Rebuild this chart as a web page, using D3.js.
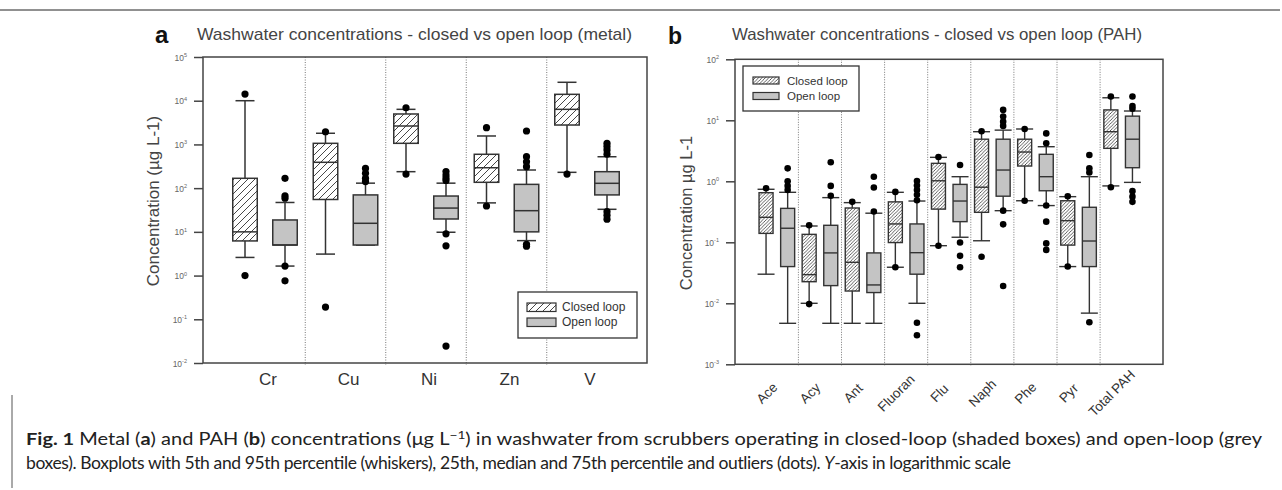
<!DOCTYPE html>
<html>
<head>
<meta charset="utf-8">
<script src="https://cdn.jsdelivr.net/npm/d3@7"></script>
<style>
  body { margin: 0; background: #fff; }
  svg { display: block; font-family: "Liberation Sans", Arial, sans-serif; }
</style>
</head>
<body>
<div id="chart"></div>
<script>
// ---- data ----
// each stats row: [low whisker, q1, median, q3, high whisker]
const metals = ["Cr", "Cu", "Ni", "Zn", "V"];
const metalClosed = [[2.6, 6.2, 10, 168, 10000], [3.1, 55, 390, 1060, 1800], [238, 1060, 2640, 4970, 6350], [46, 136, 293, 595, 1560], [230, 2780, 6350, 14000, 26400]];
const metalClosedOut = [[1.0, 14200], [0.19, 1950], [210, 6900], [39, 2420], [210]];
const metalOpen = [[1.65, 5, 5, 18.7, 47], [5, 5, 15.7, 70, 130], [9.8, 19.7, 35, 66, 130], [6.3, 10, 30.5, 122, 260], [32.8, 70, 129, 238, 523]];
const metalOpenOut = [[0.76, 1.65, 59, 67, 168], [141, 168, 218, 283], [0.0244, 4.8, 9, 150, 170, 200, 240], [4.7, 5.2, 310, 400, 525, 2030], [19.5, 24, 29, 600, 750, 900, 1060]];
const metalTicks = [1e-2, 1e-1, 1, 1e1, 1e2, 1e3, 1e4, 1e5];

const pah = ["Ace", "Acy", "Ant", "Fluoran", "Flu", "Naph", "Phe", "Pyr", "Total PAH"];
const pahClosed = [[0.030, 0.14, 0.257, 0.65, 0.74], [0.010, 0.0226, 0.0295, 0.135, 0.185], [0.0047, 0.0159, 0.047, 0.365, 0.447], [0.039, 0.099, 0.20, 0.46, 0.66], [0.088, 0.35, 1.02, 1.97, 2.47], [0.106, 0.31, 0.80, 4.9, 6.5], [0.48, 1.78, 3.02, 4.9, 7.2], [0.040, 0.090, 0.226, 0.48, 0.56], [0.84, 3.47, 6.5, 14.8, 23.4]];
const pahClosedOut = [[0.77], [0.0097, 0.19], [0.46], [0.039, 0.67], [0.088, 2.5], [0.058, 6.6], [0.48, 7.2], [0.040, 0.57], [0.8, 24.5]];
const pahOpen = [[0.0047, 0.040, 0.17, 0.36, 0.66], [0.0047, 0.0195, 0.067, 0.19, 0.54], [0.0047, 0.015, 0.020, 0.067, 0.30], [0.010, 0.030, 0.0676, 0.20, 0.475], [0.121, 0.218, 0.475, 0.89, 1.19], [0.33, 0.57, 1.53, 4.9, 6.9], [0.40, 0.70, 1.19, 2.77, 3.69], [0.0069, 0.040, 0.105, 0.375, 1.19], [0.96, 1.67, 4.9, 11.7, 14.2]];
const pahOpenOut = [[0.72, 0.84, 1.0, 1.63], [0.58, 0.84, 2.05], [0.32, 0.79, 1.19], [0.0030, 0.0048, 0.49, 0.6, 0.72, 0.85, 1.01], [0.039, 0.060, 0.099, 1.85], [0.0192, 0.197, 0.33, 8.1, 9.5, 11.5, 14.8], [0.075, 0.096, 0.218, 0.40, 4.2, 6.1], [0.0049, 1.4, 1.63, 2.7], [0.46, 0.56, 0.69, 15.5, 17.2, 24.5]];
const pahTicks = [1e-3, 1e-2, 1e-1, 1, 1e1, 1e2];

const legendLabels = ["Closed loop", "Open loop"];
const openFill = "#c4c4c4";
const ink = "#333";

const svg = d3.select("#chart").append("svg")
  .attr("width", 1282)
  .attr("height", 490);

svg.append("rect").attr("width", 1282).attr("height", 490).attr("fill", "#fff");

// hatch patterns (sparse for panel a, dense for panel b)
const defs = svg.append("defs");
function hatch(id, s, w) {
  const p = defs.append("pattern")
    .attr("id", id)
    .attr("patternUnits", "userSpaceOnUse")
    .attr("width", s).attr("height", s);
  p.append("rect").attr("width", s).attr("height", s).attr("fill", "#fff");
  p.append("path")
    .attr("d", `M-1,1 l2,-2 M0,${s} l${s},${-s} M${s - 1},${s + 1} l2,-2`)
    .attr("stroke", "#333").attr("stroke-width", w);
}
hatch("hatchA", 7, 0.9);
hatch("hatchB", 3.4, 0.8);

// top rule
svg.append("line").attr("x1", 0).attr("x2", 1280).attr("y1", 10).attr("y2", 10)
  .attr("stroke", "#222").attr("stroke-width", 1);

function drawPanel(cfg) {
  const g = svg.append("g");
  const x = d3.scaleBand().domain(cfg.cats).range(cfg.band).padding(0);
  const y = d3.scaleLog().domain(cfg.domain).range([cfg.frame.y1, cfg.frame.y0]);
  const cx = c => x(c) + x.bandwidth() / 2;

  // dotted category dividers
  g.selectAll(".div").data(cfg.cats.slice(1)).join("line")
    .attr("x1", d => x(d)).attr("x2", d => x(d))
    .attr("y1", cfg.frame.y0).attr("y2", cfg.frame.y1 + 2)
    .attr("stroke", "#777").attr("stroke-width", 1)
    .attr("stroke-dasharray", "1,1.5");

  // frame
  g.append("rect")
    .attr("x", cfg.frame.x0).attr("y", cfg.frame.y0)
    .attr("width", cfg.frame.x1 - cfg.frame.x0)
    .attr("height", cfg.frame.y1 - cfg.frame.y0)
    .attr("fill", "none").attr("stroke", "#444").attr("stroke-width", 1.5);

  // y axis with superscript decade labels
  const ax = g.append("g")
    .attr("transform", `translate(${cfg.frame.x0},0)`)
    .call(d3.axisLeft(y).tickValues(cfg.ticks).tickSize(9).tickFormat(""));
  ax.select(".domain").remove();
  ax.selectAll(".tick line").attr("stroke", "#444").attr("stroke-width", 1.5);
  ax.selectAll(".tick").append("text")
    .attr("x", -16).attr("y", 3)
    .attr("text-anchor", "end")
    .attr("fill", "#666")
    .attr("font-size", 8.5)
    .text("10")
    .append("tspan")
    .attr("dy", -3.5)
    .attr("font-size", 5.5)
    .text(d => Math.round(Math.log10(d)));

  // boxes
  const series = [
    { stats: cfg.closed, out: cfg.closedOut, dx: -cfg.off, fill: `url(#${cfg.hatch})` },
    { stats: cfg.open, out: cfg.openOut, dx: cfg.off, fill: openFill }
  ];
  series.forEach(s => {
    const rows = cfg.cats.map((c, i) => ({ c, v: s.stats[i], out: s.out[i], xc: cx(c) + s.dx }));
    const bg = g.append("g");
    bg.selectAll(".wh").data(rows).join("line")
      .attr("x1", d => d.xc).attr("x2", d => d.xc)
      .attr("y1", d => y(d.v[0])).attr("y2", d => y(d.v[4]))
      .attr("stroke", ink).attr("stroke-width", cfg.sw);
    [0, 4].forEach(k => {
      bg.selectAll(".cap" + k).data(rows).join("line")
        .attr("x1", d => d.xc - cfg.capW / 2).attr("x2", d => d.xc + cfg.capW / 2)
        .attr("y1", d => y(d.v[k])).attr("y2", d => y(d.v[k]))
        .attr("stroke", ink).attr("stroke-width", cfg.sw);
    });
    bg.selectAll(".box").data(rows).join("rect")
      .attr("x", d => d.xc - cfg.boxW / 2).attr("width", cfg.boxW)
      .attr("y", d => y(d.v[3])).attr("height", d => y(d.v[1]) - y(d.v[3]))
      .attr("fill", s.fill).attr("stroke", ink).attr("stroke-width", cfg.sw);
    bg.selectAll(".med").data(rows).join("line")
      .attr("x1", d => d.xc - cfg.boxW / 2).attr("x2", d => d.xc + cfg.boxW / 2)
      .attr("y1", d => y(d.v[2])).attr("y2", d => y(d.v[2]))
      .attr("stroke", ink).attr("stroke-width", cfg.sw);
    const pts = rows.flatMap(d => d.out.map(v => ({ xc: d.xc, v })));
    bg.selectAll(".out").data(pts).join("circle")
      .attr("cx", d => d.xc).attr("cy", d => y(d.v)).attr("r", cfg.r)
      .attr("fill", "#000");
  });

  return { g, x, y, cx };
}

// ---- panel a ----
const pa = drawPanel({
  cats: metals, closed: metalClosed, open: metalOpen,
  closedOut: metalClosedOut, openOut: metalOpenOut,
  frame: { x0: 203, x1: 647, y0: 57, y1: 363 },
  band: [224.75, 627.25], domain: [1e-2, 1e5], ticks: metalTicks,
  hatch: "hatchA", boxW: 24.5, capW: 19, off: 20, r: 3.6, sw: 1.5
});
pa.g.selectAll(".xl").data(metals).join("text")
  .attr("x", d => pa.cx(d) + 3).attr("y", 385)
  .attr("text-anchor", "middle").attr("font-size", 17).attr("fill", ink)
  .text(d => d);
pa.g.append("text").attr("x", 155).attr("y", 42.5)
  .attr("font-size", 24).attr("font-weight", "bold").attr("fill", "#111").text("a");
pa.g.append("text").attr("x", 197).attr("y", 39.5)
  .attr("font-size", 17).attr("fill", "#444")
  .attr("textLength", 435).attr("lengthAdjust", "spacingAndGlyphs")
  .text("Washwater concentrations - closed vs open loop (metal)");
pa.g.append("text")
  .attr("transform", "translate(159,201) rotate(-90)")
  .attr("text-anchor", "middle").attr("font-size", 17).attr("fill", "#444")
  .text("Concentration (µg L-1)");

// legend a
const la = pa.g.append("g");
la.append("rect").attr("x", 518).attr("y", 292).attr("width", 119).attr("height", 46)
  .attr("fill", "#fff").attr("stroke", ink).attr("stroke-width", 1.3);
la.selectAll(".sw").data(legendLabels).join("rect")
  .attr("x", 527).attr("y", (d, i) => 303 + i * 15).attr("width", 29).attr("height", 8.5)
  .attr("fill", (d, i) => i ? openFill : "url(#hatchA)")
  .attr("stroke", ink).attr("stroke-width", 1.2);
la.selectAll(".lt").data(legendLabels).join("text")
  .attr("x", 562).attr("y", (d, i) => 311 + i * 15)
  .attr("font-size", 12).attr("fill", ink).text(d => d);

// ---- panel b ----
const pb = drawPanel({
  cats: pah, closed: pahClosed, open: pahOpen,
  closedOut: pahClosedOut, openOut: pahOpenOut,
  frame: { x0: 735, x1: 1163, y0: 59.3, y1: 364.3 },
  band: [755.3, 1143.2], domain: [1e-3, 1e2], ticks: pahTicks,
  hatch: "hatchB", boxW: 14, capW: 17, off: 10.8, r: 3.3, sw: 1.4
});
pb.g.selectAll(".xl").data(pah).join("text")
  .attr("transform", d => `translate(${pb.cx(d) - 10},393) rotate(-45)`)
  .attr("text-anchor", "middle").attr("dy", "0.35em")
  .attr("font-size", 13.5).attr("fill", ink)
  .text(d => d);
pb.g.append("text").attr("x", 668).attr("y", 44)
  .attr("font-size", 23).attr("font-weight", "bold").attr("fill", "#111").text("b");
pb.g.append("text").attr("x", 732).attr("y", 39.5)
  .attr("font-size", 16.5).attr("fill", "#444")
  .attr("textLength", 410).attr("lengthAdjust", "spacingAndGlyphs")
  .text("Washwater concentrations - closed vs open loop (PAH)");
pb.g.append("text")
  .attr("transform", "translate(692,213) rotate(-90)")
  .attr("text-anchor", "middle").attr("font-size", 16.5).attr("fill", "#444")
  .text("Concentration µg L-1");

// legend b
const lb = pb.g.append("g");
lb.append("rect").attr("x", 743).attr("y", 66).attr("width", 116).attr("height", 45)
  .attr("fill", "#fff").attr("stroke", ink).attr("stroke-width", 1.3);
lb.selectAll(".sw").data(legendLabels).join("rect")
  .attr("x", 753).attr("y", (d, i) => 77 + i * 15.5).attr("width", 26).attr("height", 7)
  .attr("fill", (d, i) => i ? openFill : "url(#hatchB)")
  .attr("stroke", ink).attr("stroke-width", 1.2);
lb.selectAll(".lt").data(legendLabels).join("text")
  .attr("x", 787).attr("y", (d, i) => 84.5 + i * 15.5)
  .attr("font-size", 11.5).attr("fill", ink).text(d => d);

// ---- caption ----
svg.append("line").attr("x1", 12).attr("x2", 12).attr("y1", 395).attr("y2", 488)
  .attr("stroke", "#555").attr("stroke-width", 1);
const cap = svg.append("g").attr("font-family", "Lato, 'Open Sans', sans-serif")
  .attr("font-size", 17.5).attr("fill", "#222");
const l1 = cap.append("text").attr("x", 26).attr("y", 445)
  .attr("textLength", 1236).attr("lengthAdjust", "spacingAndGlyphs");
[["Fig. 1", true], ["  Metal (", false], ["a", true], [") and PAH (", false], ["b", true],
 [") concentrations (μg L", false]].forEach(([t, b]) =>
  l1.append("tspan").attr("font-weight", b ? "bold" : null).text(t));
l1.append("tspan").attr("dy", -6).attr("font-size", 12).text("−1");
l1.append("tspan").attr("dy", 6).text(") in washwater from scrubbers operating in closed-loop (shaded boxes) and open-loop (grey");
const l2 = cap.append("text").attr("x", 26).attr("y", 469)
  .attr("textLength", 985).attr("lengthAdjust", "spacing");
l2.append("tspan").text("boxes). Boxplots with 5th and 95th percentile (whiskers), 25th, median and 75th percentile and outliers (dots). ");
l2.append("tspan").attr("font-style", "italic").text("Y");
l2.append("tspan").text("-axis in logarithmic scale");
</script>
</body>
</html>
